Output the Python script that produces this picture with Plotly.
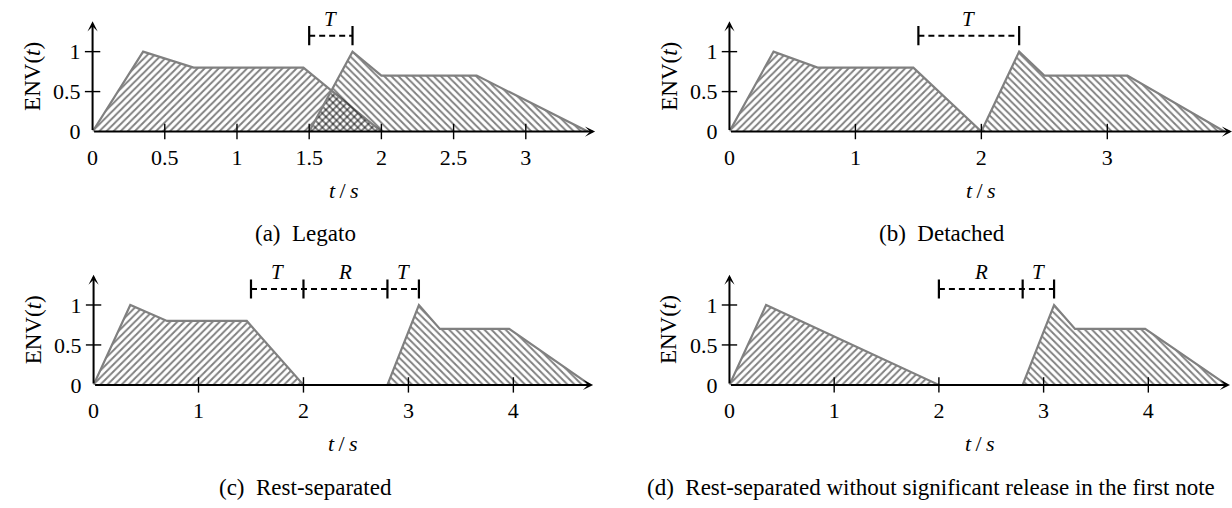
import plotly.graph_objects as go

W, H = 1232, 508

# ---------------- data ----------------
a_note1_t = [0, 0.35, 0.70, 1.46, 2.0]
a_note1_env = [0, 1, 0.8, 0.8, 0]
a_note2_t = [1.5, 1.8, 2.0, 2.66, 3.43]
a_note2_env = [0, 1, 0.7, 0.7, 0]

b_note1_t = [0, 0.35, 0.70, 1.46, 2.0]
b_note1_env = [0, 1, 0.8, 0.8, 0]
b_note2_t = [2.0, 2.3, 2.5, 3.16, 3.93]
b_note2_env = [0, 1, 0.7, 0.7, 0]

c_note1_t = [0, 0.35, 0.70, 1.46, 2.0]
c_note1_env = [0, 1, 0.8, 0.8, 0]
c_note2_t = [2.8, 3.1, 3.3, 3.96, 4.73]
c_note2_env = [0, 1, 0.7, 0.7, 0]

d_note1_t = [0, 0.35, 2.0]
d_note1_env = [0, 1, 0]
d_note2_t = [2.8, 3.1, 3.3, 3.97, 4.75]
d_note2_env = [0, 1, 0.7, 0.7, 0]

a_marks = [1.5, 1.8]
a_mark_labels = ["T"]
b_marks = [1.5, 2.3]
b_mark_labels = ["T"]
c_marks = [1.5, 2.0, 2.8, 3.1]
c_mark_labels = ["T", "R", "T"]
d_marks = [2.0, 2.8, 3.1]
d_mark_labels = ["R", "T"]

a_xticks = [0, 0.5, 1, 1.5, 2, 2.5, 3]
a_xticklabels = ["0", "0.5", "1", "1.5", "2", "2.5", "3"]
b_xticks = [0, 1, 2, 3]
b_xticklabels = ["0", "1", "2", "3"]
cd_xticks = [0, 1, 2, 3, 4]
cd_xticklabels = ["0", "1", "2", "3", "4"]
y_ticks = [0, 0.5, 1]
y_ticklabels = ["0", "0.5", "1"]

captions = ["(a)\u2002Legato", "(b)\u2002Detached", "(c)\u2002Rest-separated",
            "(d)\u2002Rest-separated without significant release in the first note"]

# ---------------- layout constants ----------------
FONT = "Liberation Serif"
YMAX = 1.6
Y_ARROW = 1.38
BR_Y = 1.2
BR_H = 0.12
LBL_Y = 1.41
PX_PER_Y = 82.0
OUTLINE = "#808080"

panels = [
    dict(n1=(a_note1_t, a_note1_env), n2=(a_note2_t, a_note2_env), marks=a_marks, mlab=a_mark_labels,
         xt=a_xticks, xtl=a_xticklabels, x0=87, x1=592, xmax=3.48, y0=135, cap_x=301),
    dict(n1=(b_note1_t, b_note1_env), n2=(b_note2_t, b_note2_env), marks=b_marks, mlab=b_mark_labels,
         xt=b_xticks, xtl=b_xticklabels, x0=727, x1=1232, xmax=3.99, y0=135, cap_x=941),
    dict(n1=(c_note1_t, c_note1_env), n2=(c_note2_t, c_note2_env), marks=c_marks, mlab=c_mark_labels,
         xt=cd_xticks, xtl=cd_xticklabels, x0=88, x1=590, xmax=4.76, y0=395, cap_x=301),
    dict(n1=(d_note1_t, d_note1_env), n2=(d_note2_t, d_note2_env), marks=d_marks, mlab=d_mark_labels,
         xt=cd_xticks, xtl=cd_xticklabels, x0=727, x1=1230, xmax=4.78, y0=395, cap_x=930),
]

fig = go.Figure()
annotations = []


def px(x):
    return x / W


def py(y):
    return 1 - y / H


def txt(x, y, text, size, **kw):
    d = dict(x=px(x), y=py(y), xref="paper", yref="paper", text=text, showarrow=False,
             xanchor="center", yanchor="middle", font=dict(family=FONT, size=size, color="black"))
    d.update(kw)
    return d


for i, p in enumerate(panels):
    k = "" if i == 0 else str(i + 1)
    xr, yr = "x" + k, "y" + k
    ytop_px = p["y0"] - YMAX * PX_PER_Y

    fig.layout["xaxis" + k] = dict(
        domain=[px(p["x0"]), px(p["x1"])], range=[0, p["xmax"]], anchor=yr,
        showgrid=False, zeroline=False, showline=False, ticks="",
        tickvals=p["xt"], ticktext=p["xtl"], ticklabelstandoff=10,
        tickfont=dict(family=FONT, size=22, color="black"), fixedrange=True)
    fig.layout["yaxis" + k] = dict(
        domain=[py(p["y0"]), py(ytop_px)], range=[0, YMAX], anchor=xr,
        showgrid=False, zeroline=False, showline=False, ticks="",
        tickvals=y_ticks, ticktext=y_ticklabels, ticklabelstandoff=11,
        tickfont=dict(family=FONT, size=22, color="black"), fixedrange=True)

    # notes with hatched fill
    for (tt, ee), shape in ((p["n1"], "/"), (p["n2"], "\\")):
        fig.add_trace(go.Scatter(
            x=tt, y=ee, mode="lines", fill="toself", xaxis=xr, yaxis=yr,
            fillcolor="rgba(0,0,0,0)",
            fillpattern=dict(shape=shape, fgcolor="black", bgcolor="rgba(0,0,0,0)",
                             size=5, solidity=0.38),
            line=dict(color=OUTLINE, width=2.2), showlegend=False, hoverinfo="skip"))

    # tick marks crossing axes
    fig.add_trace(go.Scatter(
        x=[v for v in p["xt"] if v != 0], y=[0] * (len(p["xt"]) - 1), mode="markers",
        xaxis=xr, yaxis=yr, cliponaxis=False,
        marker=dict(symbol="line-ns", size=11, line=dict(color="black", width=1.4)),
        showlegend=False, hoverinfo="skip"))
    fig.add_trace(go.Scatter(
        x=[0] * (len(y_ticks) - 1), y=[v for v in y_ticks if v != 0], mode="markers",
        xaxis=xr, yaxis=yr, cliponaxis=False,
        marker=dict(symbol="line-ew", size=11, line=dict(color="black", width=1.4)),
        showlegend=False, hoverinfo="skip"))

    # interval brackets
    m = p["marks"]
    fig.add_trace(go.Scatter(
        x=[m[0], m[-1]], y=[BR_Y, BR_Y], mode="lines", xaxis=xr, yaxis=yr,
        line=dict(color="black", width=2, dash="6px,4px"), showlegend=False, hoverinfo="skip"))
    bx, by = [], []
    for v in m:
        bx += [v, v, None]
        by += [BR_Y - BR_H, BR_Y + BR_H, None]
    fig.add_trace(go.Scatter(
        x=bx, y=by, mode="lines", xaxis=xr, yaxis=yr,
        line=dict(color="black", width=2.2), showlegend=False, hoverinfo="skip"))
    for j, lab in enumerate(p["mlab"]):
        annotations.append(dict(
            x=(m[j] + m[j + 1]) / 2, y=LBL_Y, xref=xr, yref=yr, text="<i>%s</i>" % lab,
            showarrow=False, xanchor="center", yanchor="middle",
            font=dict(family=FONT, size=21, color="black")))

    # axis arrows
    annotations.append(dict(x=p["xmax"], y=0, ax=0, ay=0, xref=xr, yref=yr, axref=xr, ayref=yr,
                            text="", showarrow=True, arrowhead=3, arrowsize=0.85,
                            arrowwidth=2, arrowcolor="black"))
    annotations.append(dict(x=0, y=Y_ARROW, ax=0, ay=0, xref=xr, yref=yr, axref=xr, ayref=yr,
                            text="", showarrow=True, arrowhead=3, arrowsize=0.85,
                            arrowwidth=2, arrowcolor="black"))

    # axis titles
    annotations.append(txt((p["x0"] + p["x1"]) / 2, p["y0"] + 60,
                           "<i>t</i>\u2009/\u2009<i>s</i>", 22))
    annotations.append(txt(p["x0"] - 61, p["y0"] - 57, "ENV(<i>t</i>)", 23, textangle=-90))
    # caption
    annotations.append(txt(p["cap_x"], p["y0"] + 105, captions[i], 23))

fig.update_layout(width=W, height=H, margin=dict(l=0, r=0, t=0, b=0),
                  paper_bgcolor="white", plot_bgcolor="white",
                  annotations=annotations, showlegend=False)

fig.write_html("out.html")
